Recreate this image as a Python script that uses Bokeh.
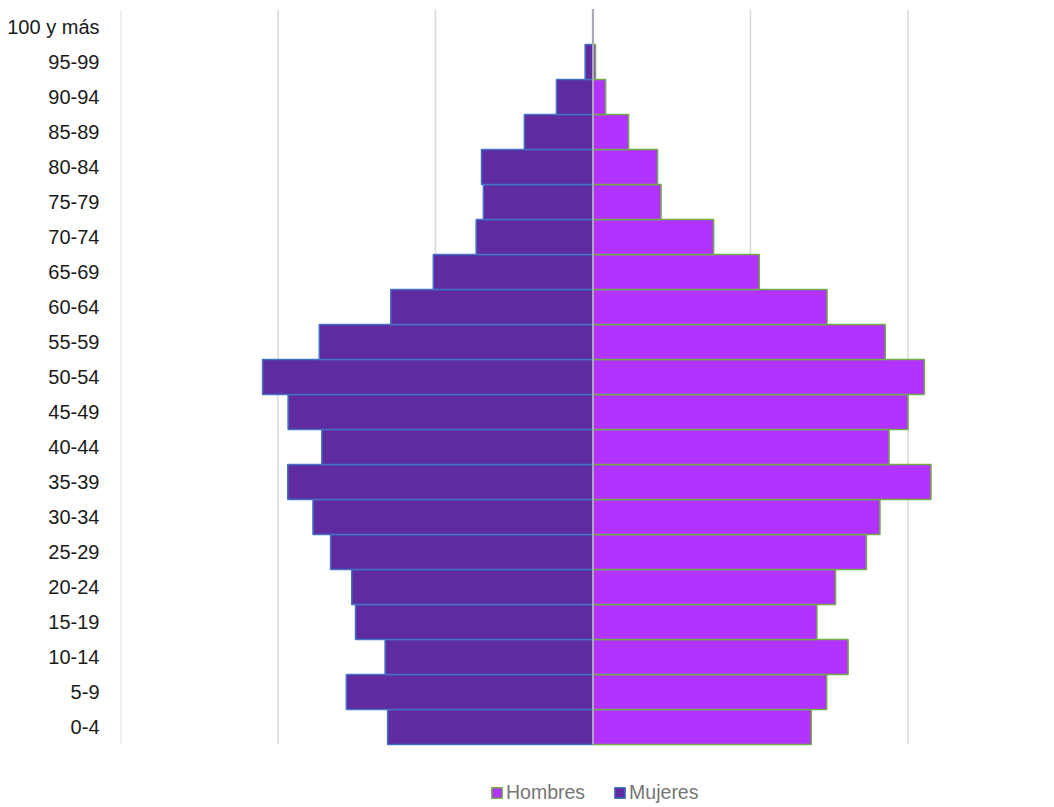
from bokeh.plotting import figure
from bokeh.models import Range1d, FixedTicker, Legend, LegendItem, ColumnDataSource
from bokeh.embed import file_html
from bokeh.resources import INLINE

# ---- data (arbitrary units, 500 per gridline) ----
grupos = ["0-4", "5-9", "10-14", "15-19", "20-24", "25-29", "30-34", "35-39",
          "40-44", "45-49", "50-54", "55-59", "60-64", "65-69", "70-74",
          "75-79", "80-84", "85-89", "90-94", "95-99", "100 y más"]
mujeres = [652, 783, 660, 754, 766, 833, 889, 969, 861, 968, 1049, 869, 642,
           507, 371, 348, 354, 218, 116, 25, 1]
hombres = [693, 742, 810, 711, 770, 868, 911, 1073, 940, 1000, 1052, 928, 743,
           528, 383, 216, 205, 113, 40, 8, 1]
grid_ticks = [-1500, -1000, -500, 500, 1000]

FONT = "'Liberation Sans', Arial, sans-serif"

pos = list(range(len(grupos)))
src_m = ColumnDataSource(dict(y=pos, left=[-v for v in mujeres], right=[0] * len(mujeres)))
src_h = ColumnDataSource(dict(y=pos, left=[0] * len(hombres), right=hombres))

W, H = 1054, 807
frame_left, frame_right, frame_top = 120, 1046, 9
cat_bottom = 744                      # pixel where the category area ends
px_per_unit = 157.5 / 500.0
x_start = -1500
x_end = x_start + (frame_right - frame_left) / px_per_unit
row_px = (cat_bottom - frame_top) / len(grupos)
y_top = len(grupos) - 0.5
y_bottom = -0.5 - (H - cat_bottom) / row_px

p = figure(width=W, height=H, output_backend="svg", toolbar_location=None,
           x_range=Range1d(x_start, x_end), y_range=Range1d(y_bottom, y_top),
           x_axis_location=None,
           min_border_left=frame_left, min_border_right=W - frame_right,
           min_border_top=frame_top, min_border_bottom=0)
p.outline_line_color = None
p.background_fill_color = "white"
p.border_fill_color = "white"
p.grid.grid_line_color = None

# vertical gridlines, limited to the category area
p.segment(x0=grid_ticks, x1=grid_ticks, y0=[-0.5] * len(grid_ticks), y1=[y_top] * len(grid_ticks),
          line_color="#d9d9d9", line_width=1.5)

rh = p.hbar(y="y", left="left", right="right", height=1.0, source=src_h,
            fill_color="#b233ff", line_color="#70ad47", line_width=1.5)
rm = p.hbar(y="y", left="left", right="right", height=1.0, source=src_m,
            fill_color="#5e2ca0", line_color="#4472c4", line_width=1.5)

# central axis line
p.segment(x0=[0], x1=[0], y0=[-0.5], y1=[y_top], line_color="#a9a9b8", line_width=2)

yax = p.yaxis[0]
yax.ticker = FixedTicker(ticks=pos)
yax.major_label_overrides = {i: g for i, g in zip(pos, grupos)}
yax.axis_line_color = None
yax.major_tick_line_color = None
yax.minor_tick_line_color = None
yax.major_tick_in = 0
yax.major_tick_out = 0
yax.major_label_standoff = 21
yax.major_label_text_font = FONT
yax.major_label_text_font_size = "20px"
yax.major_label_text_color = "#1a1a1a"

legend = Legend(items=[LegendItem(label="Hombres", renderers=[rh]),
                       LegendItem(label="Mujeres", renderers=[rm])],
                location=(370, 3), orientation="horizontal",
                glyph_width=13, glyph_height=13, label_standoff=3, spacing=28,
                padding=0, margin=0, border_line_color=None,
                background_fill_alpha=0,
                label_text_font=FONT, label_text_font_size="19.5px",
                label_text_color="#767676")
p.add_layout(legend, "center")

open("out.html", "w").write(file_html(p, INLINE))
